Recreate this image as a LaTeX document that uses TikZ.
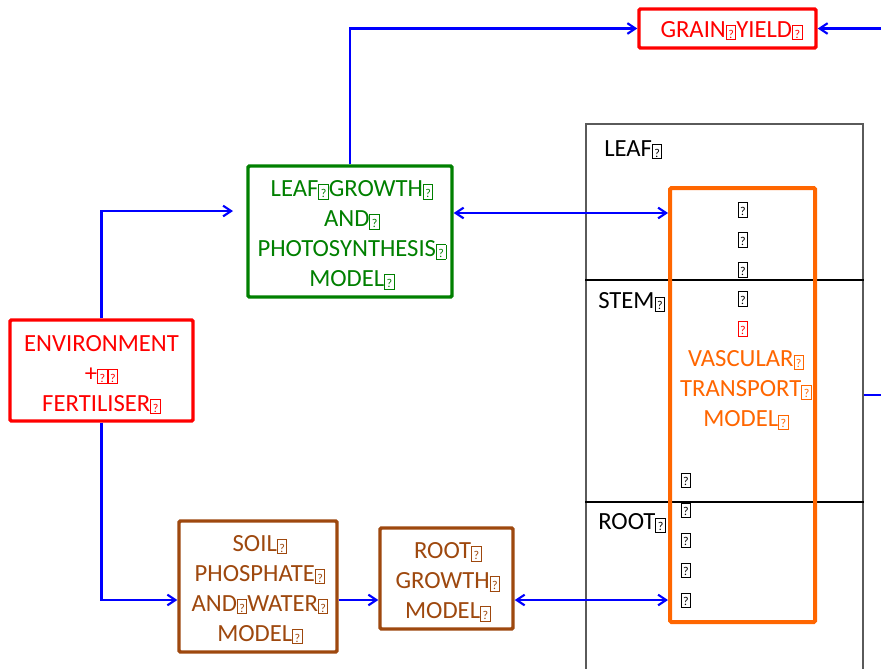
\documentclass[tikz,border=0pt]{standalone}
\usepackage{fontspec}
\setmainfont{Carlito}
\usetikzlibrary{arrows.meta}
\definecolor{gred}{RGB}{255,0,0}
\definecolor{ggreen}{RGB}{0,128,0}
\definecolor{gbrown}{RGB}{158,72,14}
\definecolor{gorange}{RGB}{255,102,0}
\definecolor{gblue}{RGB}{0,0,255}
\definecolor{ggray}{RGB}{90,90,90}
\newcommand{\tofubox}{{\setlength{\fboxsep}{0.7pt}\setlength{\fboxrule}{0.7pt}\raisebox{-0.8pt}{\fbox{\rule{0pt}{8.4pt}\makebox[5pt]{\fontsize{9}{9}\selectfont ?}}}}}
\begin{document}
\begin{tikzpicture}[x=0.75pt,y=-0.75pt,
  box/.style={draw,line width=2.6pt,rounded corners=1pt,inner sep=0pt},
  lbl/.style={inner sep=0pt,align=center,font=\fontsize{18.5}{22.5}\selectfont},
  conn/.style={gblue,line width=1.6pt},
  tip/.style={-{Straight Barb[length=6pt,width=8pt,line width=1.6pt]}},
  both/.style={{Straight Barb[length=6pt,width=8pt,line width=1.6pt]}-{Straight Barb[length=6pt,width=8pt,line width=1.6pt]}}
]
\useasboundingbox[fill=white] (0,0) rectangle (881,668);

% plant outline with organ zones
\node[draw=ggray,line width=0.8pt,minimum width=0.75pt*277,minimum height=0.75pt*576,inner sep=0pt] (plant) at (724.5,412) {};
\coordinate (d1) at (0,280);
\coordinate (d2) at (0,502);
\draw[black,line width=1.6pt] (plant.west |- d1) -- (plant.east |- d1);
\draw[black,line width=1.6pt] (plant.west |- d2) -- (plant.east |- d2);
\node[lbl,anchor=west] (lleaf) at (604,150) {LEAF\tofubox};
\node[lbl,anchor=west] (lstem) at (598,302) {STEM\tofubox};
\node[lbl,anchor=west] (lroot) at (598,523) {ROOT\tofubox};

% boxes
\node[box,gred,minimum width=0.75pt*177,minimum height=0.75pt*39,
  label={[lbl,gred,yshift=-1.8pt,xshift=3pt]center:GRAIN\tofubox YIELD\tofubox}] (grain) at (727.5,28.5) {};
\node[box,ggreen,minimum width=0.75pt*204,minimum height=0.75pt*131,
  label={[lbl,ggreen,yshift=-2.6pt,xshift=1.5pt]center:LEAF\tofubox GROWTH\tofubox\\AND\tofubox\\PHOTOSYNTHESIS\tofubox\\MODEL\tofubox}] (leaf) at (350,231.5) {};
\node[box,gred,minimum width=0.75pt*183,minimum height=0.75pt*101,
  label={[lbl,gred,yshift=-3pt]center:ENVIRONMENT\\+\tofubox\tofubox\\FERTILISER\tofubox}] (env) at (101.5,370.5) {};
\node[box,gbrown,minimum width=0.75pt*158,minimum height=0.75pt*131,
  label={[lbl,gbrown,yshift=-2.5pt,xshift=1.5pt]center:SOIL\tofubox\\PHOSPHATE\tofubox\\AND\tofubox WATER\tofubox\\MODEL\tofubox}] (soil) at (258,586.5) {};
\node[box,gbrown,minimum width=0.75pt*133,minimum height=0.75pt*101,
  label={[lbl,gbrown,yshift=-2.6pt,xshift=1pt]center:ROOT\tofubox\\GROWTH\tofubox\\MODEL\tofubox}] (rootg) at (446.5,578.5) {};
\node[box,gorange,line width=3pt,minimum width=0.75pt*145,minimum height=0.75pt*434] (vasc) at (742.5,405) {};

% contents of vascular box
\node[lbl,gorange] (vtext) at (746,390) {VASCULAR\tofubox\\TRANSPORT\tofubox\\MODEL\tofubox};
\foreach \yy/\nm in {210/t1,240/t2,270/t3,299/t4}
  \node[lbl] (\nm) at (743,\yy) {\tofubox};
\node[lbl,gred] (t5) at (743,329) {\tofubox};
\foreach \yy/\nm in {480/b1,510/b2,540/b3,570/b4,600/b5}
  \node[lbl] (\nm) at (686,\yy) {\tofubox};

% connectors
\coordinate (la) at (0,213);
\coordinate (lb) at (0,600);
\coordinate (envleaf) at (233,211);
\coordinate (grainin) at (881,28.5);
\coordinate (ex) at (0,395);
\coordinate (exend) at (881,395);
\draw[conn,tip] (leaf.north) |- (grain.west);
\draw[conn,tip] (grainin) -- (grain.east);
\draw[conn,both] (leaf.east |- la) -- (vasc.west |- la);
\draw[conn,tip] (env.north) |- (envleaf);
\draw[conn,tip] (env.south) |- (soil.west |- lb);
\draw[conn,tip] (soil.east |- lb) -- (rootg.west |- lb);
\draw[conn,both] (rootg.east |- lb) -- (vasc.west |- lb);
\draw[conn] (plant.east |- ex) -- (exend);
\end{tikzpicture}
\end{document}
